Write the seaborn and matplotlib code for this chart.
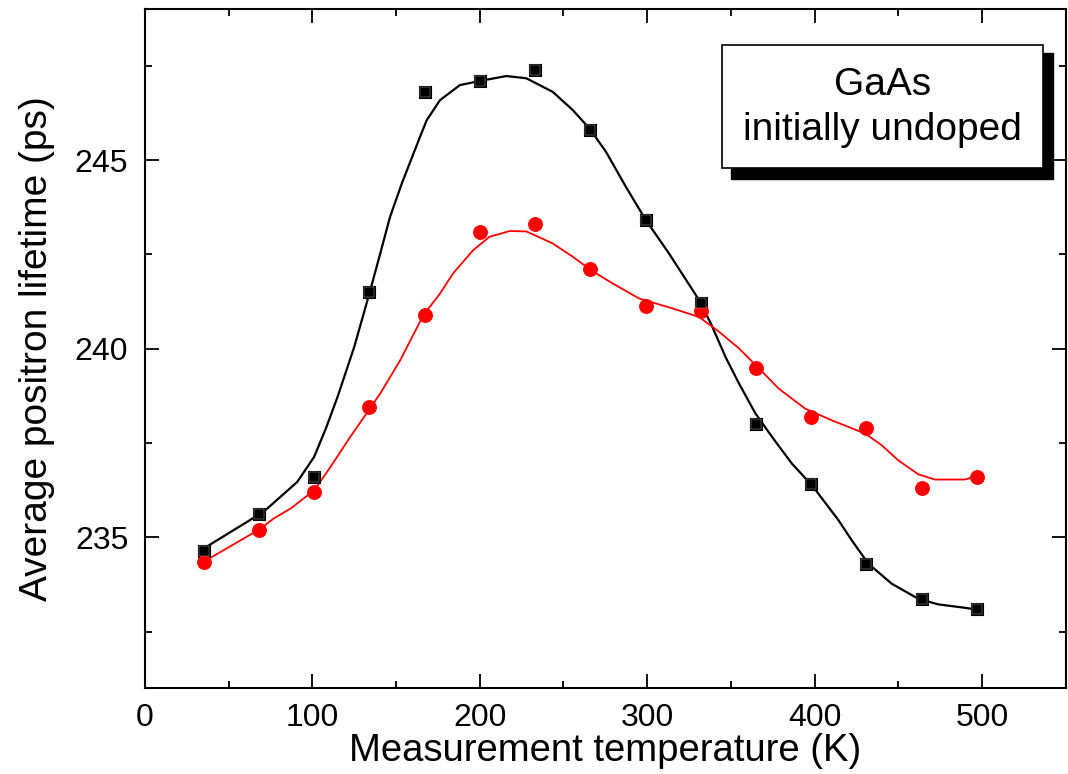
import matplotlib
matplotlib.use("Agg")
import matplotlib.pyplot as plt
import seaborn as sns
from matplotlib.patches import Rectangle
from matplotlib.ticker import MultipleLocator

# measured points
temp = [35, 68, 101, 134, 167, 200, 233, 266, 299, 332, 365, 398, 431, 464, 497]
black_pts = [234.63, 235.61, 236.6, 241.5, 246.8, 247.1, 247.4, 245.8, 243.4, 241.2,
             238.0, 236.4, 234.3, 233.35, 233.1]
red_pts = [234.35, 235.2, 236.2, 238.45, 240.9, 243.1, 243.3, 242.1, 241.13, 241.0,
           239.5, 238.2, 237.9, 236.3, 236.6]

# smooth guide curves
black_curve_t = [35, 68, 73, 91, 101, 108, 115, 125, 134, 140.5, 146.4, 153.4, 164.3,
                 168.3, 176.2, 188.1, 200, 215.9, 227.8, 243.6, 255.5, 265.5, 275.4,
                 287.3, 299.2, 313.1, 331, 338, 346.8, 354.8, 364.7, 374.6, 386.5,
                 398.4, 414.3, 422.2, 432.1, 446, 461.9, 473.8, 489.7, 497]
black_curve_v = [234.7, 235.6, 235.76, 236.47, 237.13, 237.88, 238.72, 240.05, 241.46,
                 242.52, 243.5, 244.38, 245.62, 246.06, 246.59, 246.99, 247.1, 247.23,
                 247.17, 246.81, 246.33, 245.84, 245.22, 244.29, 243.41, 242.52, 241.29,
                 240.67, 239.78, 239.08, 238.28, 237.66, 236.95, 236.38, 235.45, 234.92,
                 234.3, 233.77, 233.37, 233.22, 233.13, 233.08]
red_curve_t = [35, 68, 77, 86.9, 101.2, 110.7, 122.6, 134, 140.5, 152.4, 166.3, 176.2,
               184.1, 196, 205.9, 217.9, 227.8, 243.6, 255.5, 266.5, 279.4, 295.2, 315,
               331, 342.9, 354.8, 366.7, 378.6, 394.4, 410.3, 430.2, 440.1, 450, 461.9,
               471.8, 489.7, 497]
red_curve_v = [234.35, 235.2, 235.5, 235.76, 236.25, 236.86, 237.66, 238.39, 238.81,
               239.69, 240.89, 241.46, 242.0, 242.61, 242.97, 243.12, 243.11, 242.79,
               242.44, 242.08, 241.73, 241.33, 241.07, 240.84, 240.45, 240.01, 239.48,
               238.94, 238.41, 238.1, 237.75, 237.44, 237.04, 236.67, 236.53, 236.53,
               236.62]

sns.set_style("ticks")
plt.rcParams["font.family"] = ["Liberation Sans", "DejaVu Sans"]
plt.rcParams["text.color"] = "black"
plt.rcParams["axes.labelcolor"] = "black"
plt.rcParams["xtick.color"] = "black"
plt.rcParams["ytick.color"] = "black"

fig = plt.figure(figsize=(10.68, 7.74), dpi=100)
ax = fig.add_axes([0.1358, 0.111, 0.862, 0.877])

sns.lineplot(x=black_curve_t, y=black_curve_v, ax=ax, color="black", lw=1.6,
             sort=False, estimator=None, zorder=2)
sns.lineplot(x=red_curve_t, y=red_curve_v, ax=ax, color="#ff0000", lw=1.3,
             sort=False, estimator=None, zorder=2)
sns.scatterplot(x=temp, y=black_pts, ax=ax, marker="s", s=85, color="black",
                edgecolor="black", linewidth=0.8, zorder=3)
sns.scatterplot(x=temp, y=black_pts, ax=ax, marker="s", s=48, color="black",
                edgecolor="#bbbbbb", linewidth=0.3, zorder=4)
sns.scatterplot(x=temp, y=red_pts, ax=ax, marker="o", s=115, color="#ff0000",
                edgecolor="#ff0000", linewidth=0, zorder=3)

ax.set_xlim(0, 550)
ax.set_ylim(231, 249)
ax.xaxis.set_major_locator(MultipleLocator(100))
ax.xaxis.set_minor_locator(MultipleLocator(50))
ax.yaxis.set_major_locator(MultipleLocator(5))
ax.yaxis.set_minor_locator(MultipleLocator(2.5))
ax.tick_params(which="both", direction="in", top=True, right=True, width=1.3,
               colors="black", labelcolor="black")
ax.tick_params(which="major", length=10, labelsize=23)
ax.tick_params(which="minor", length=5)
ax.tick_params(axis="x", which="major", pad=11)
ax.tick_params(axis="y", which="major", pad=12)
for sp in ax.spines.values():
    sp.set_linewidth(1.5)
    sp.set_color("black")
    sp.set_visible(True)

ax.set_xlabel("Measurement temperature (K)", fontsize=27.5, labelpad=0, color="black")
ax.set_ylabel("Average positron lifetime (ps)", fontsize=28, labelpad=14, color="black")

# label box with drop shadow
ax.add_patch(Rectangle((0.636, 0.750), 0.350, 0.185, transform=ax.transAxes,
                       facecolor="black", edgecolor="black", zorder=5))
ax.add_patch(Rectangle((0.6265, 0.766), 0.3485, 0.182, transform=ax.transAxes,
                       facecolor="white", edgecolor="black", lw=1.2, zorder=6))
ax.text(0.801, 0.874, "GaAs", transform=ax.transAxes, ha="center", va="baseline",
        fontsize=28, color="black", zorder=7)
ax.text(0.801, 0.807, "initially undoped", transform=ax.transAxes, ha="center",
        va="baseline", fontsize=28, color="black", zorder=7)

fig.savefig("out.png", dpi=100)
